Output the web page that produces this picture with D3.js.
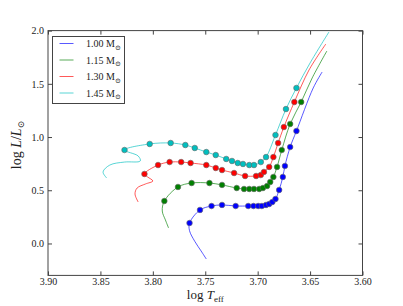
<!DOCTYPE html>
<html>
<head>
<meta charset="utf-8">
<script src="https://cdn.jsdelivr.net/npm/d3@7"></script>
<style>
body { margin: 0; background: #fff; }
svg, svg text { font-family: "Liberation Serif", "DejaVu Serif", serif; }
</style>
</head>
<body>
<div id="chart"></div>
<script>
// masses and colours
var masses = ["1.00", "1.15", "1.30", "1.45"]
var colors = ["#0000ff", "#008000", "#ff0000", "#00bfbf"]

// track points before the first dot, the dots, and the track after the last dot  [logTeff, logL]
var pre100 = [[3.749, -0.146], [3.754, -0.070], [3.760, 0.020], [3.765, 0.120]]
var dots100 = [[3.765, 0.192], [3.755, 0.315], [3.744, 0.352], [3.734, 0.362], [3.721, 0.352], [3.709, 0.352],
	[3.704, 0.352], [3.6995, 0.352], [3.696, 0.352], [3.692, 0.362], [3.689, 0.371], [3.686, 0.390],
	[3.683, 0.418], [3.6795, 0.503], [3.676, 0.625], [3.674, 0.728], [3.669, 0.906], [3.663, 1.057]]
var post100 = [[3.647, 1.461], [3.6385, 1.611]]

var pre115 = [[3.785, 0.146], [3.788, 0.221], [3.791, 0.305]]
var dots115 = [[3.789, 0.399], [3.776, 0.531], [3.763, 0.568], [3.746, 0.568], [3.734, 0.550], [3.720, 0.521],
	[3.713, 0.512], [3.708, 0.512], [3.7035, 0.512], [3.6985, 0.512], [3.695, 0.521], [3.691, 0.540],
	[3.688, 0.578], [3.685, 0.625], [3.6815, 0.719], [3.677, 0.878], [3.669, 1.123], [3.6585, 1.329]]
var post115 = [[3.648, 1.555], [3.634, 1.808]]

var pre130 = [[3.814, 0.390], [3.817, 0.465], [3.815, 0.521], [3.807, 0.559], [3.800, 0.587], [3.805, 0.625]]
var dots130 = [[3.808, 0.653], [3.795, 0.737], [3.784, 0.765], [3.773, 0.765], [3.764, 0.756], [3.749, 0.737],
	[3.740, 0.709], [3.734, 0.690], [3.7225, 0.662], [3.712, 0.634], [3.7015, 0.634], [3.697, 0.643],
	[3.694, 0.672], [3.689, 0.719], [3.685, 0.812], [3.6805, 0.944], [3.675, 1.094], [3.665, 1.329]]
var post130 = [[3.651, 1.630], [3.635, 1.874]]

var pre145 = [[3.844, 0.615], [3.8475, 0.672], [3.841, 0.737], [3.827, 0.765], [3.812, 0.775], [3.814, 0.822]]
var dots145 = [[3.827, 0.878], [3.803, 0.935], [3.783, 0.944], [3.769, 0.925], [3.760, 0.897], [3.749, 0.859],
	[3.740, 0.831], [3.730, 0.794], [3.7245, 0.775], [3.719, 0.756], [3.714, 0.747], [3.708, 0.737],
	[3.7035, 0.737], [3.697, 0.765], [3.692, 0.812], [3.683, 1.019], [3.673, 1.263], [3.663, 1.461]]
var post145 = [[3.650, 1.696], [3.632, 1.987]]

var xTicks = [3.90, 3.85, 3.80, 3.75, 3.70, 3.65, 3.60]
var yTicks = [0.0, 0.5, 1.0, 1.5, 2.0]

var tracks = [
	{pre: pre100, dots: dots100, post: post100},
	{pre: pre115, dots: dots115, post: post115},
	{pre: pre130, dots: dots130, post: post130},
	{pre: pre145, dots: dots145, post: post145}
]

var serif = "'Liberation Serif', 'DejaVu Serif', serif"
var width = 403, height = 306
var margin = {top: 30.6, right: 40.5, bottom: 30.6, left: 48}
var w = width - margin.left - margin.right
var h = height - margin.top - margin.bottom

var svg = d3.select("#chart")
	.append("svg")
	.attr("width", width)
	.attr("height", height)

var g = svg.append("g")
	.attr("transform", `translate(${margin.left},${margin.top})`)

var x = d3.scaleLinear().domain([3.90, 3.60]).range([0, w])
var y = d3.scaleLinear().domain([-0.3, 2.0]).range([h, 0])

var line = d3.line()
	.x(d => x(d[0]))
	.y(d => y(d[1]))
	.curve(d3.curveCatmullRom)

// tracks and dots
tracks.forEach(function(t, i) {
	var all = t.pre.concat(t.dots).concat(t.post)
	g.append("path")
		.datum(all)
		.attr("fill", "none")
		.attr("stroke", colors[i])
		.attr("stroke-opacity", 0.65)
		.attr("stroke-width", 1)
		.attr("d", line)
})
tracks.forEach(function(t, i) {
	g.selectAll(".dot" + i)
		.data(t.dots)
		.enter()
		.append("circle")
		.attr("cx", d => x(d[0]))
		.attr("cy", d => y(d[1]))
		.attr("r", 2.8)
		.attr("fill", colors[i])
		.attr("stroke", "#666")
		.attr("stroke-width", 0.6)
})

// axes, ticks pointing in
function styleAxis(sel) {
	sel.attr("font-family", serif)
	sel.select(".domain").remove()
	sel.selectAll(".tick line").attr("stroke", "#444")
	sel.selectAll("text").attr("font-family", serif).attr("font-size", 10).attr("fill", "#222")
}

g.append("g")
	.attr("transform", `translate(0,${h})`)
	.call(d3.axisBottom(x).tickValues(xTicks).tickFormat(d3.format(".2f")).tickSizeInner(-4).tickSizeOuter(0).tickPadding(3))
	.call(styleAxis)
g.append("g")
	.call(d3.axisTop(x).tickValues(xTicks).tickFormat("").tickSizeInner(-4).tickSizeOuter(0))
	.call(styleAxis)
g.append("g")
	.call(d3.axisLeft(y).tickValues(yTicks).tickFormat(d3.format(".1f")).tickSizeInner(-4).tickSizeOuter(0).tickPadding(4))
	.call(styleAxis)
g.append("g")
	.attr("transform", `translate(${w},0)`)
	.call(d3.axisRight(y).tickValues(yTicks).tickFormat("").tickSizeInner(-4).tickSizeOuter(0))
	.call(styleAxis)

g.append("rect")
	.attr("width", w)
	.attr("height", h)
	.attr("fill", "none")
	.attr("stroke", "#444")
	.attr("stroke-width", 1)

// axis labels
var xl = svg.append("text")
	.attr("x", margin.left + w / 2)
	.attr("y", 299)
	.attr("text-anchor", "middle")
	.attr("font-size", 13)
	.attr("fill", "#222")
xl.append("tspan").text("log ")
xl.append("tspan").attr("font-style", "italic").text("T")
xl.append("tspan").attr("font-size", 9).attr("dy", 2.5).text("eff")

var yl = svg.append("text")
	.attr("transform", `translate(21,${margin.top + h / 2 - 8}) rotate(-90)`)
	.attr("text-anchor", "middle")
	.attr("font-size", 14)
	.attr("fill", "#222")
yl.append("tspan").text("log ")
yl.append("tspan").attr("font-style", "italic").text("L")
yl.append("tspan").text("/")
yl.append("tspan").attr("font-style", "italic").text("L")
yl.append("tspan").attr("font-size", 9).attr("dy", 3).text("\u2299")

// legend
var legend = svg.append("g").attr("transform", "translate(52.5,36.5)")
legend.append("rect")
	.attr("width", 72)
	.attr("height", 67)
	.attr("fill", "#fff")
	.attr("stroke", "#444")
	.attr("stroke-width", 1)
masses.forEach(function(m, i) {
	var yy = 7 + i * 16.5
	legend.append("line")
		.attr("x1", 7).attr("x2", 21)
		.attr("y1", yy).attr("y2", yy)
		.attr("stroke", colors[i])
		.attr("stroke-opacity", 0.65)
	var t = legend.append("text")
		.attr("x", 33.5)
		.attr("y", yy + 3.5)
		.attr("font-size", 10)
		.attr("fill", "#222")
	t.append("tspan").text(m + " M")
	t.append("tspan").attr("font-size", 7).attr("dy", 2.5).text("\u2299")
})
</script>
</body>
</html>
